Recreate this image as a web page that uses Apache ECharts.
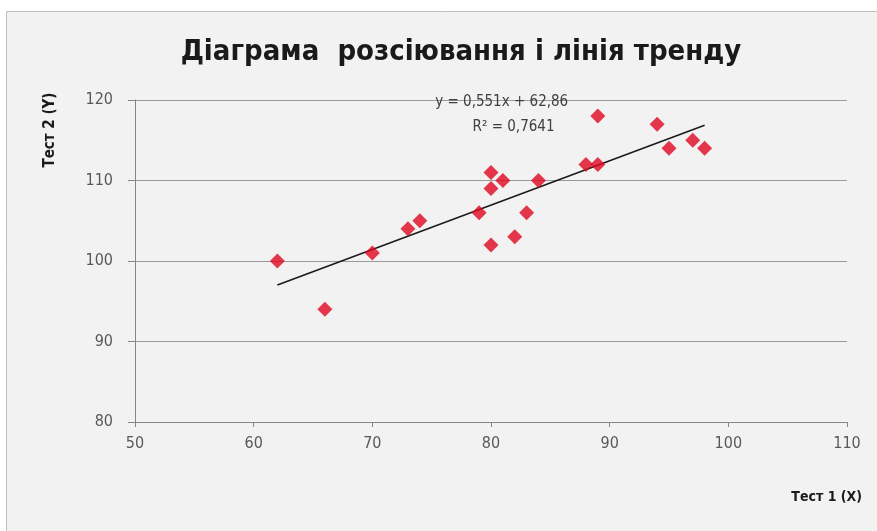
<!DOCTYPE html>
<html><head><meta charset="utf-8">
<script src="https://cdn.jsdelivr.net/npm/echarts@6/dist/echarts.min.js"></script>
<style>html,body{margin:0;padding:0;background:#fff;}#c{width:877px;height:531px;}</style>
</head><body><div id="c"></div>
<script>
const testX = [62, 66, 70, 73, 74, 79, 80, 80, 80, 81, 82, 83, 84, 88, 89, 89, 94, 95, 97, 98];
const testY = [100, 94, 101, 104, 105, 106, 111, 109, 102, 110, 103, 106, 110, 112, 118, 112, 117, 114, 115, 114];
const trendX = [62, 98];
const trendY = [97.02, 116.86];
const titleText = 'Діаграма  розсіювання і лінія тренду';
const xName = 'Тест 1 (X)';
const yName = 'Тест 2 (Y)';
const eqLine1 = 'y = 0,551x + 62,86';
const eqLine2 = 'R² = 0,7641';

const font = '"Liberation Sans Narrow", "DejaVu Sans Condensed", "Open Sans", sans-serif';
const chart = echarts.init(document.getElementById('c'), null, {renderer: 'canvas'});
const pts = testX.map((x, i) => [x, testY[i]]);
const trend = trendX.map((x, i) => [x, trendY[i]]);
chart.setOption({
  backgroundColor: '#ffffff',
  animation: false,
  title: {
    text: titleText, left: 456, textAlign: 'center', top: 33,
    textStyle: {fontFamily: font, fontSize: 29, fontWeight: 'bold', color: '#1a1a1a'}
  },
  grid: {left: 135, right: 30, top: 100, bottom: 109},
  xAxis: {
    type: 'value', min: 50, max: 110, interval: 10,
    axisLine: {lineStyle: {color: '#868686'}},
    axisTick: {show: true, length: 5, lineStyle: {color: '#868686'}},
    axisLabel: {margin: 14, color: '#595959', fontFamily: font, fontSize: 16},
    splitLine: {show: false}
  },
  yAxis: {
    type: 'value', min: 80, max: 120, interval: 10,
    axisLine: {show: true, lineStyle: {color: '#868686'}},
    axisTick: {show: true, length: 7, lineStyle: {color: '#868686'}},
    axisLabel: {margin: 22, color: '#595959', fontFamily: font, fontSize: 16},
    splitLine: {show: true, lineStyle: {color: '#9a9a9a', width: 1}}
  },
  series: [
    {type: 'line', data: trend, symbol: 'none', lineStyle: {color: '#1a1a1a', width: 1.5}, z: 2},
    {type: 'scatter', data: pts, symbol: 'diamond', symbolSize: 15, itemStyle: {color: '#e0061f'}, z: 3}
  ]
});
const p1 = chart.convertToPixel({gridIndex: 0}, [80.9, 119.8]);
const p2 = chart.convertToPixel({gridIndex: 0}, [81.9, 116.6]);
chart.setOption({
  graphic: [
    {type: 'rect', shape: {x: 6.5, y: 11.5, width: 880, height: 530}, style: {fill: '#f2f2f2', stroke: '#bfbfbf', lineWidth: 1}, z: -10, silent: true},
    {type: 'text', x: p1[0], y: p1[1], style: {text: eqLine1, textAlign: 'center', textVerticalAlign: 'middle', font: '15px ' + font, fill: '#404040'}, z: 10},
    {type: 'text', x: p2[0], y: p2[1], style: {text: eqLine2, textAlign: 'center', textVerticalAlign: 'middle', font: '15px ' + font, fill: '#404040'}, z: 10},
    {type: 'text', x: 50, y: 130, rotation: Math.PI / 2, style: {text: yName, textAlign: 'center', textVerticalAlign: 'middle', font: 'bold 15px ' + font, fill: '#1a1a1a'}},
    {type: 'text', x: 862, y: 497, style: {text: xName, textAlign: 'right', textVerticalAlign: 'middle', font: 'bold 14px ' + font, fill: '#1a1a1a'}}
  ]
});
</script></body></html>
